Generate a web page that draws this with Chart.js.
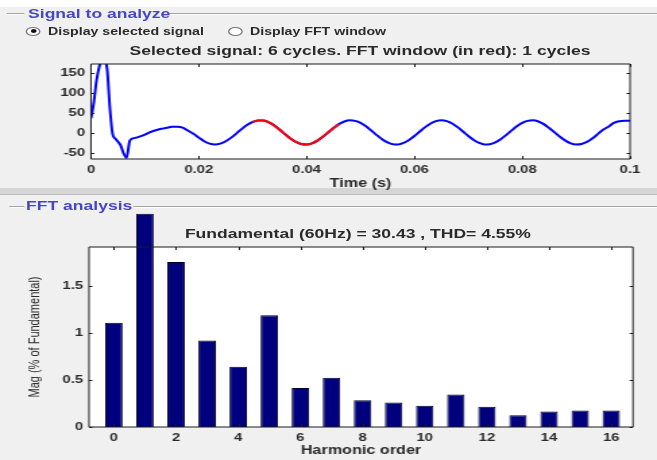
<!DOCTYPE html>
<html><head><meta charset="utf-8">
<script src="https://cdn.jsdelivr.net/npm/chart.js@4.4.0/dist/chart.umd.min.js"></script>
<style>
html,body{margin:0;padding:0;background:#f0f0f0;overflow:hidden;width:657px;height:460px;}
#stage{position:absolute;left:0;top:0;width:487px;height:460px;transform:scaleX(1.349076);transform-origin:0 0;font-family:"Liberation Sans",Arial,sans-serif;}
.abs{position:absolute;}
.txt{position:absolute;white-space:nowrap;line-height:1;font-weight:bold;color:#2a2a2a;}
.grp{color:#4646c8;font-size:13px;}
.hl{position:absolute;height:1px;background:#a4a4a4;border-bottom:1px solid #ffffff;}
.radio{position:absolute;width:11px;height:9px;border-radius:50%;border:1px solid #777;background:#fff;box-sizing:border-box;}
.dot{position:absolute;left:2.5px;top:1.8px;width:4px;height:3.4px;border-radius:50%;background:#111;}
canvas{position:absolute;left:0;}
</style></head>
<body>
<div id="stage">
  <div class="abs" style="left:0;top:0;width:487px;height:7px;background:#ffffff"></div>
  <div class="hl" style="left:5.2px;width:12.6px;top:13px"></div>
  <div class="hl" style="left:124.5px;width:363px;top:13px"></div>
  <div class="txt grp" style="left:20.8px;top:6.5px">Signal to analyze</div>

  <div class="radio" style="left:19.3px;top:26.5px"><div class="dot"></div></div>
  <div class="txt" style="left:35.6px;top:25.9px;font-size:10.5px">Display selected signal</div>
  <div class="radio" style="left:169.4px;top:26.5px"></div>
  <div class="txt" style="left:185.3px;top:25.9px;font-size:10.5px">Display FFT window</div>

  <div class="txt" id="sigTitle" style="left:266.9px;top:44px;font-size:13px;transform:translateX(-50%)"></div>

  <div class="abs" style="left:0;top:188px;width:487px;height:6px;background:#d6d6d6"></div>
  <div class="abs" style="left:0;top:194px;width:487px;height:1px;background:#bdbdbd"></div>

  <div class="hl" style="left:7.4px;width:10.4px;top:206px"></div>
  <div class="hl" style="left:98.6px;width:389px;top:206px"></div>
  <div class="txt grp" style="left:19.3px;top:199px">FFT analysis</div>

  <div class="txt" id="fftTitle" style="left:265.3px;top:227px;font-size:13px;transform:translateX(-50%)"></div>

  <canvas id="sig" width="487" height="200" style="top:0"></canvas>
  <canvas id="fft" width="487" height="265" style="top:195px"></canvas>
</div>
<script>
// ---- Signal panel data ----
const timeSec = [0, 0.0005, 0.001, 0.0015, 0.002, 0.0025, 0.003, 0.0035, 0.004, 0.0045, 0.005, 0.0055, 0.006, 0.0066, 0.0072,
  0.008, 0.009, 0.010, 0.011, 0.012, 0.013, 0.014, 0.015, 0.016, 0.017, 0.018, 0.019,
  0.020, 0.021, 0.022, 0.023, 0.024, 0.025, 0.026, 0.027, 0.028, 0.029,
  0.030, 0.031, 0.032, 0.033, 0.034, 0.035, 0.036, 0.037, 0.038, 0.039,
  0.040, 0.041, 0.042, 0.043, 0.044, 0.045, 0.046, 0.047, 0.048, 0.049,
  0.050, 0.051, 0.052, 0.053, 0.054, 0.055, 0.056, 0.057, 0.058, 0.059,
  0.060, 0.061, 0.062, 0.063, 0.064, 0.065, 0.066, 0.067, 0.068, 0.069,
  0.070, 0.071, 0.072, 0.073, 0.074, 0.075, 0.076, 0.077, 0.078, 0.079,
  0.080, 0.081, 0.082, 0.083, 0.084, 0.085, 0.086, 0.087, 0.088, 0.089,
  0.090, 0.091, 0.092, 0.093, 0.094, 0.095, 0.096, 0.097, 0.098, 0.099, 0.100];
const signalValues = [37, 75, 130, 165, 185, 183, 160, 63, -2, -14, -22, -31, -50, -63, -19,
  -13, -9, -4, 2.5, 7, 10.5, 13, 15.5, 16, 13.5, 6, -2,
  -11.7, -20.8, -26.9, -29.0, -26.9, -20.9, -11.7, -0.8, 10.5, 20.5,
  27.9, 31.7, 31.2, 26.7, 18.7, 8.3, -3.0, -13.8, -22.4, -27.7,
  -28.9, -26.0, -19.2, -9.6, 1.5, 12.6, 22.3, 29.0, 31.9, 30.6,
  25.4, 16.8, 6.0, -5.3, -15.7, -23.7, -28.2, -28.7, -24.9, -17.5,
  -7.5, 3.8, 14.7, 23.9, 29.9, 32.0, 29.9, 23.9, 14.7, 3.8,
  -7.5, -17.5, -24.9, -28.7, -28.2, -23.7, -15.7, -5.3, 6.0, 16.8,
  25.4, 30.6, 31.9, 29.0, 22.3, 12.6, 1.5, -9.6, -19.2, -26.0,
  -28.9, -27.7, -22.4, -13.8, -3.0, 8.3, 16, 25.5, 29.5, 30.8, 31.0];
const fftWindowStart = 0.030;
const fftWindowEnd = 0.0465;
const timeTickValues = [0, 0.02, 0.04, 0.06, 0.08, 0.1];
const timeTickLabels = ["0", "0.02", "0.04", "0.06", "0.08", "0.1"];
const signalTickValues = [-50, 0, 50, 100, 150];
const signalTickLabels = ["-50", "0", "50", "100", "150"];
const signalTitle = "Selected signal: 6 cycles. FFT window (in red): 1 cycles";

// ---- FFT panel data ----
const harmonicOrder = [0, 1, 2, 3, 4, 5, 6, 7, 8, 9, 10, 11, 12, 13, 14, 15, 16];
const harmonicMag = [1.11, 2.27, 1.755, 0.92, 0.64, 1.19, 0.415, 0.525, 0.285, 0.26, 0.225, 0.345, 0.215, 0.125, 0.165, 0.175, 0.175];
const harmonicTickValues = [0, 2, 4, 6, 8, 10, 12, 14, 16];
const harmonicTickLabels = ["0", "2", "4", "6", "8", "10", "12", "14", "16"];
const magTickValues = [0, 0.5, 1, 1.5];
const magTickLabels = ["0", "0.5", "1", "1.5"];
const fftTitle = "Fundamental (60Hz) = 30.43 , THD= 4.55%";

document.getElementById('sigTitle').textContent = signalTitle;
document.getElementById('fftTitle').textContent = fftTitle;

const FAMILY = '"Liberation Sans", Arial, sans-serif';
const tickFont = {family: FAMILY, size: 11, weight: 'bold'};
const TXT = '#2a2a2a';

const boxPlugin = {
  id: 'matlabBox',
  beforeDraw(chart) {
    const a = chart.chartArea, c = chart.ctx;
    c.save(); c.fillStyle = '#ffffff';
    c.fillRect(a.left, a.top, a.right - a.left, a.bottom - a.top);
    c.restore();
  },
  afterDraw(chart) {
    const a = chart.chartArea, c = chart.ctx, xs = chart.scales.x, ys = chart.scales.y;
    c.save(); c.strokeStyle = '#1a1a1a'; c.lineWidth = 1;
    c.beginPath();
    xs.ticks.forEach(t => {
      const px = Math.round(xs.getPixelForValue(t.value)) + 0.5;
      c.moveTo(px, a.top); c.lineTo(px, a.top + 3);
      c.moveTo(px, a.bottom); c.lineTo(px, a.bottom - 3);
    });
    ys.ticks.forEach(t => {
      const py = Math.round(ys.getPixelForValue(t.value)) + 0.5;
      c.moveTo(a.left, py); c.lineTo(a.left + 2.5, py);
      c.moveTo(a.right, py); c.lineTo(a.right - 2.5, py);
    });
    c.stroke();
    c.beginPath();
    c.rect(a.left, a.top, a.right - a.left, a.bottom - a.top);
    c.stroke();
    c.restore();
  }
};

const blueData = timeSec.map((t, i) => ({x: t, y: signalValues[i]}));
const redData = timeSec.map((t, i) => ({x: t, y: signalValues[i]})).filter(p => p.x >= fftWindowStart && p.x <= fftWindowEnd);

new Chart(document.getElementById('sig'), {
  type: 'line',
  data: {datasets: [
    {data: redData, borderColor: '#ff0000', borderWidth: 2, pointRadius: 0, cubicInterpolationMode: 'monotone'},
    {data: blueData, borderColor: '#0000ff', borderWidth: 2, pointRadius: 0, cubicInterpolationMode: 'monotone'}
  ]},
  options: {
    responsive: false, animation: false, devicePixelRatio: 1,
    layout: {padding: {left: 0, right: 20, top: 64, bottom: 5}},
    plugins: {legend: {display: false}, tooltip: {enabled: false}},
    scales: {
      x: {type: 'linear', min: 0, max: 0.1,
        afterBuildTicks: s => { s.ticks = timeTickValues.map(v => ({value: v})); },
        afterFit: s => { s.height = 36; },
        ticks: {callback: (v, i) => timeTickLabels[i], padding: 4, maxRotation: 0, autoSkip: false, font: tickFont, color: TXT},
        title: {display: true, text: 'Time (s)', font: {family: FAMILY, size: 12, weight: 'bold'}, color: TXT, padding: {top: 0, bottom: 4.3}},
        grid: {display: false, drawTicks: false}, border: {display: false}},
      y: {type: 'linear', min: -65.5, max: 173.8,
        afterBuildTicks: s => { s.ticks = signalTickValues.map(v => ({value: v})); },
        afterFit: s => { s.width = 67.45; },
        ticks: {callback: (v, i) => signalTickLabels[i], padding: 4.4, font: tickFont, color: TXT},
        grid: {display: false, drawTicks: false}, border: {display: false}}
    }
  },
  plugins: [boxPlugin]
});

new Chart(document.getElementById('fft'), {
  type: 'bar',
  data: {datasets: [{
    data: harmonicOrder.map((h, i) => ({x: h, y: harmonicMag[i]})),
    backgroundColor: '#00007f', borderColor: '#00002a', borderWidth: 1,
    barPercentage: 0.56, categoryPercentage: 1, clip: false
  }]},
  options: {
    responsive: false, animation: false, devicePixelRatio: 1,
    layout: {padding: {left: 0, right: 17.8, top: 52, bottom: 1}},
    plugins: {legend: {display: false}, tooltip: {enabled: false}},
    scales: {
      x: {type: 'linear', min: -0.8, max: 16.7, offset: false,
        afterBuildTicks: s => { s.ticks = harmonicTickValues.map(v => ({value: v})); },
        afterFit: s => { s.height = 32; },
        ticks: {callback: (v, i) => harmonicTickLabels[i], padding: 4, maxRotation: 0, autoSkip: false, font: tickFont, color: TXT},
        title: {display: true, text: 'Harmonic order', font: {family: FAMILY, size: 12, weight: 'bold'}, color: TXT, padding: {top: 0, bottom: 1}},
        grid: {display: false, drawTicks: false}, border: {display: false}},
      y: {type: 'linear', min: 0, max: 1.915,
        afterBuildTicks: s => { s.ticks = magTickValues.map(v => ({value: v})); },
        afterFit: s => { s.width = 65.97; },
        ticks: {callback: (v, i) => magTickLabels[i], padding: 4.4, font: tickFont, color: TXT},
        title: {display: true, text: 'Mag (% of Fundamental)', font: {family: FAMILY, size: 11, weight: 'normal'}, color: TXT, padding: {top: 19.3, bottom: 0}},
        grid: {display: false, drawTicks: false}, border: {display: false}}
    }
  },
  plugins: [boxPlugin]
});
</script>
</body></html>
